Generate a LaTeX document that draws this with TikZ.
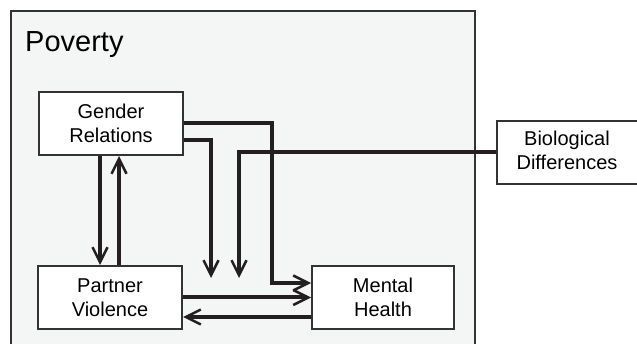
\documentclass[tikz,border=0pt]{standalone}
\usepackage{fontspec}
\setmainfont{Liberation Sans}
\usepackage{tikz}
\usetikzlibrary{arrows.meta,positioning}
\definecolor{boxline}{HTML}{333333}
\definecolor{arrowline}{HTML}{231F20}
\definecolor{povfill}{HTML}{F4F6F5}

\begin{document}
\begin{tikzpicture}[x=1pt,y=-1pt,
  factor/.style={draw=boxline,line width=2pt,fill=white,minimum width=144pt,minimum height=63pt,
    align=center,font=\fontsize{20}{24}\selectfont,inner sep=0pt},
  conn/.style={draw=arrowline,line width=4pt},
  >={Straight Barb[length=15pt,width=15pt,line width=2.5pt]}]
\useasboundingbox (0,0) rectangle (637,344);
% Poverty frame
\draw[boxline,line width=2pt,fill=povfill] (11,11) rectangle (475,352);
\node[anchor=base west,inner sep=0pt,font=\fontsize{29}{34}\selectfont] (poverty) at (25,52) {Poverty};
% Factors
\node[factor] (gender) at (111,123.5) {Gender\\Relations};
\node[factor] (partner) at (110,297.5) {Partner\\Violence};
\node[factor,minimum width=142pt] (mental) at (383,297.5) {Mental\\Health};
% runs off the right edge of the page
\node[factor,minimum width=170pt,anchor=west,align=left] (bio) at (496,152.5)
  {\begin{tabular}{@{}c@{}}Biological\\Differences\end{tabular}\hspace*{30pt}};
% Free ends
\coordinate (gend) at (211,278);
\coordinate (bend) at (239,278);
% Connectors
\draw[conn,->] (gender.east) -- ++(88,0) |- ([yshift=14.5pt]mental.west);
\draw[conn,->] ([yshift=-17pt]gender.east) -| (gend);
\draw[conn,->] (bio.west) -| (bend);
\draw[conn,->] ([xshift=-11pt]gender.south) -- ([xshift=-11pt]gender.south |- partner.north);
\draw[conn,->] ([xshift=8pt]gender.south |- partner.north) -- ([xshift=8pt]gender.south);
\draw[conn,->] (partner.east) -- (mental.west);
\draw[conn,->] ([yshift=-19.5pt]mental.west) -- ([yshift=-19.5pt]mental.west -| partner.east);
\end{tikzpicture}
\end{document}
